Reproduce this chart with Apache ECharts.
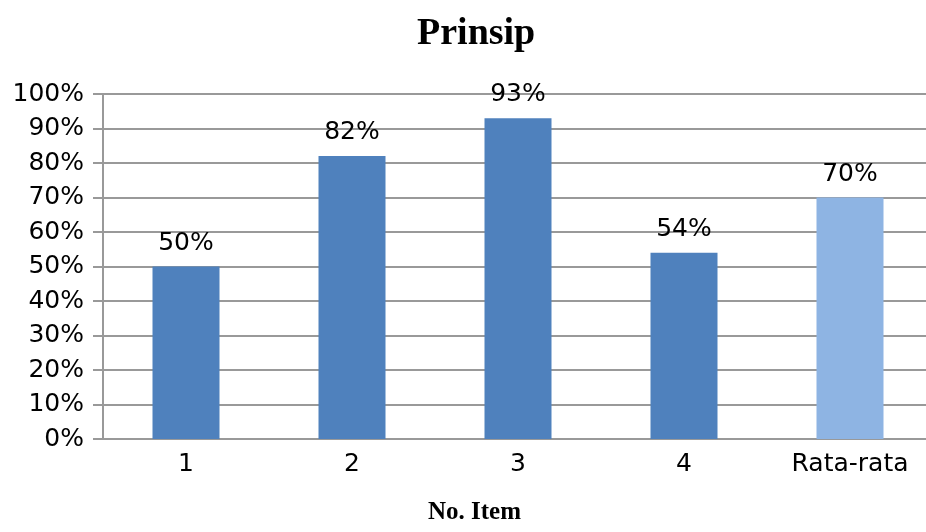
<!DOCTYPE html>
<html>
<head>
<meta charset="utf-8">
<script src="https://cdn.jsdelivr.net/npm/echarts@6/dist/echarts.min.js"></script>
<style>
  html, body { margin: 0; padding: 0; background: #fff; }
  #chart { width: 926px; height: 532px; }
</style>
</head>
<body>
<div id="chart"></div>
<script>
  // data
  const categories = ['1', '2', '3', '4', 'Rata-rata']
  const values = [50, 82, 93, 54, 70]
  const barColors = ['#4F81BD', '#4F81BD', '#4F81BD', '#4F81BD', '#8EB4E3']
  const chartTitle = 'Prinsip'
  const xAxisTitle = 'No. Item'

  let chart = echarts.init(document.getElementById('chart'))
  let options = {
    animation: false,
    title: [
      {
        text: chartTitle,
        left: 412,
        top: 10,
        textStyle: {
          fontFamily: 'Liberation Serif',
          fontWeight: 'bold',
          fontSize: 38,
          color: '#000'
        }
      },
      {
        // axis title sits under the chart, not centred on the plot
        text: xAxisTitle,
        left: 428,
        top: 500,
        padding: 0,
        textStyle: {
          fontFamily: 'Liberation Serif',
          fontWeight: 'bold',
          fontSize: 25,
          color: '#000'
        }
      }
    ],
    grid: {
      left: 103,
      right: -7,
      top: 94,
      bottom: 93,
      outerBoundsMode: 'none'
    },
    xAxis: {
      type: 'category',
      data: categories,
      axisLine: { lineStyle: { color: '#999', width: 2 } },
      axisTick: { show: false },
      axisLabel: {
        fontFamily: 'DejaVu Sans',
        fontSize: 25,
        color: '#000',
        margin: 13
      }
    },
    yAxis: {
      type: 'value',
      min: 0,
      max: 100,
      interval: 10,
      axisLine: { show: true, lineStyle: { color: '#999', width: 2 } },
      axisTick: { show: true, length: 10, lineStyle: { color: '#999', width: 2 } },
      splitLine: { lineStyle: { color: '#999', width: 2 } },
      axisLabel: {
        formatter: '{value}%',
        fontFamily: 'DejaVu Sans',
        fontSize: 25,
        color: '#000',
        margin: 19
      }
    },
    series: [
      {
        type: 'bar',
        barWidth: 67,
        data: values.map((v, i) => {
          return { value: v, itemStyle: { color: barColors[i] } }
        }),
        label: {
          show: true,
          position: 'top',
          distance: 11,
          formatter: '{c}%',
          fontFamily: 'DejaVu Sans',
          fontSize: 25,
          color: '#000'
        }
      }
    ]
  }
  chart.setOption(options)
</script>
</body>
</html>
